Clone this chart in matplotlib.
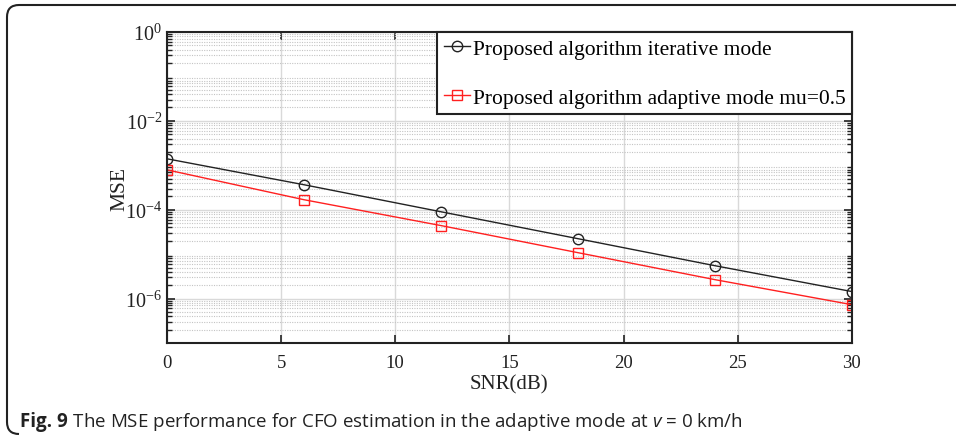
import numpy as np
import matplotlib
matplotlib.use('Agg')
from matplotlib import pyplot as plt
from matplotlib.path import Path
from matplotlib.patches import PathPatch

snr = [0, 6, 12, 18, 24, 30]
mse_iter = [1.4e-3, 3.65e-4, 9.0e-5, 2.23e-5, 5.5e-6, 1.44e-6]
mse_adapt = [7.9e-4, 1.68e-4, 4.4e-5, 1.08e-5, 2.67e-6, 7.3e-7]
lab_iter = 'Proposed algorithm iterative mode'
lab_adapt = 'Proposed algorithm adaptive mode mu=0.5'
xticks = [0, 5, 10, 15, 20, 25, 30]
yticks = [1e-6, 1e-4, 1e-2, 1e0]
cap_bold = 'Fig. 9'
cap_rest = ' The MSE performance for CFO estimation in the adaptive mode at $v$ = 0 km/h'

plt.rcParams['font.family'] = 'Liberation Serif'
plt.rcParams['mathtext.fontset'] = 'stix'
plt.rcParams['mathtext.rm'] = 'Open Sans'
plt.rcParams['mathtext.it'] = 'Open Sans:italic'

fig = plt.figure(figsize=(9.56, 4.39), dpi=100)
ax = fig.add_axes([0.1747, 0.2164, 0.891 - 0.1747, 0.9248 - 0.2164])

ax.semilogy(snr, mse_iter, '-o', color='#222222', lw=1.0, ms=7.5, mfc='none',
            mec='#222222', mew=1.0, label=lab_iter)
ax.semilogy(snr, mse_adapt, '-s', color='#ff2020', lw=1.0, ms=6.5, mfc='none',
            mec='#ff2020', mew=1.0, label=lab_adapt)

ax.set_xlim(0, 30)
ax.set_ylim(1e-7, 1)
ax.set_xticks(xticks)
ax.set_yticks(yticks)
ax.yaxis.set_minor_locator(matplotlib.ticker.LogLocator(base=10, subs=np.arange(2, 10), numticks=20))
ax.yaxis.set_minor_formatter(matplotlib.ticker.NullFormatter())

ax.grid(True, which='major', color='#d9d9d9', lw=1.0, ls='-')
ax.grid(True, which='minor', axis='y', color='#c4c4c4', lw=0.8, ls=(0, (1, 1.2)))
ax.set_axisbelow(True)

ax.tick_params(which='both', direction='in', top=True, right=True, labelsize=13.5,
               colors='#222222', labelcolor='#222222')
ax.tick_params(axis='y', labelsize=14.5)
ax.tick_params(which='major', length=6, width=1.2)
ax.tick_params(which='minor', length=3.5, width=1.0)
ax.tick_params(axis='x', pad=8)
for s in ax.spines.values():
    s.set_linewidth(1.5)
    s.set_color('#222222')

ax.set_xlabel('SNR(dB)', fontsize=15, color='#222222', labelpad=2)
ax.set_ylabel('MSE', fontsize=15.5, color='#222222', labelpad=-3)

leg = ax.legend(loc='upper right', borderaxespad=0, fontsize=15.5, fancybox=False,
                framealpha=1, edgecolor='#222222', labelspacing=1.35,
                handlelength=1.25, handletextpad=0.1, borderpad=0.3)
leg.get_frame().set_linewidth(1.5)

# caption: bold part, then the rest right after it
t1 = fig.text(0.021, 0.027, cap_bold, fontsize=13.5, family='Open Sans',
              weight='bold', color='#222222', va='baseline')
fig.canvas.draw()
bb = t1.get_window_extent(fig.canvas.get_renderer())
fig.text(bb.x1 / fig.bbox.width, 0.027, cap_rest, fontsize=13.5, family='Open Sans',
         math_fontfamily='custom', color='#222222', va='baseline')

# rounded frame of the figure panel
W, H = 956, 439
r = 12
verts = [(W, H - 6), (7 + r, H - 6), (7, H - 6), (7, H - 6 - r), (7, 4 + r), (7, 4), (7 + r, 4)]
codes = [Path.MOVETO, Path.LINETO, Path.CURVE3, Path.CURVE3, Path.LINETO, Path.CURVE3, Path.CURVE3]
verts = [(x / W, y / H) for x, y in verts]
frame = PathPatch(Path(verts, codes), transform=fig.transFigure, fill=False,
                  lw=1.5, edgecolor='#222222')
fig.patches.append(frame)

fig.savefig('out.png', dpi=100)
